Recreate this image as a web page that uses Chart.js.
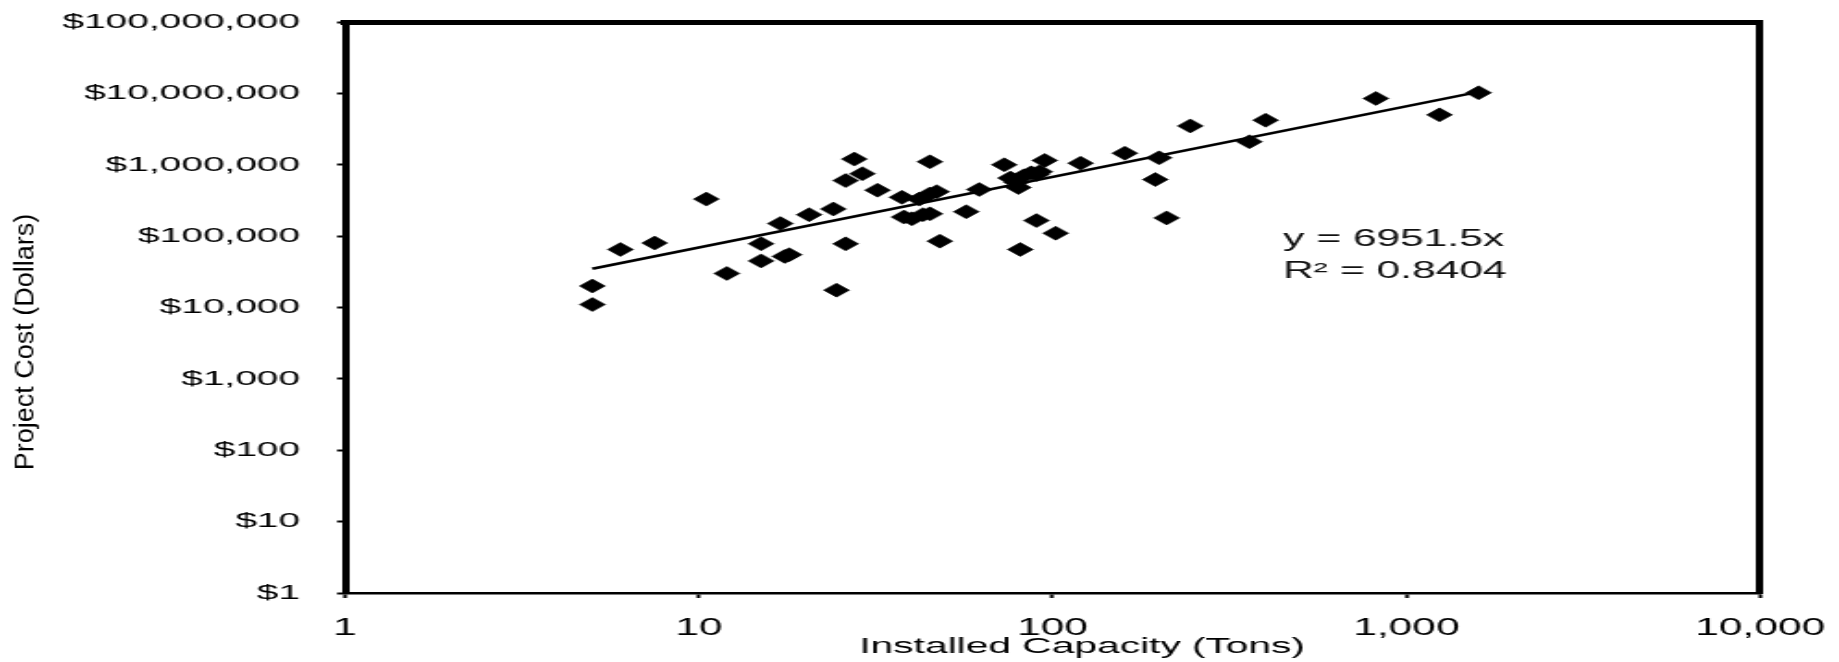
<!DOCTYPE html>
<html><head><meta charset="utf-8">
<script src="https://cdn.jsdelivr.net/npm/chart.js@4.4.1/dist/chart.umd.min.js"></script>
<style>
html,body{margin:0;padding:0;background:#fff;overflow:hidden;width:1839px;height:662px}
#wrap{position:absolute;left:0;top:0;width:994px;height:662px;transform:scaleX(1.85010);transform-origin:0 0}
</style></head><body>
<div id="wrap"><canvas id="c"></canvas></div>
<script>
// ---- data ----
const capacityTons = [5, 5, 6, 7.5, 10.5, 12, 15, 15, 17, 18, 17.5, 20.5, 24, 24.5, 26, 26, 27.5, 29, 32, 37.5,
  38, 40, 43, 42, 45, 45, 47, 45, 48, 57, 62, 73, 76, 79, 80, 81, 83, 87, 90, 92,
  90, 95, 102, 120, 160, 195, 200, 210, 245, 360, 400, 820, 1240, 1600];
const projectCost = [20000, 11000, 65000, 80000, 330000, 30000, 78000, 45000, 150000, 55000, 52000, 200000, 240000, 17500, 78000, 600000, 1200000, 750000, 440000, 350000,
  185000, 175000, 200000, 330000, 1100000, 390000, 420000, 205000, 85000, 220000, 450000, 1000000, 650000, 570000, 480000, 65000, 700000, 770000, 730000, 800000,
  165000, 1150000, 110000, 1050000, 1450000, 620000, 1250000, 180000, 3500000, 2100000, 4200000, 8500000, 5000000, 10200000];
const trendTons = [5, 1600];
const trendCost = [35000, 10500000];
const xTickValues = [1, 10, 100, 1000, 10000];
const xTickLabels = ['1', '10', '100', '1,000', '10,000'];
const yTickValues = [1, 10, 100, 1000, 10000, 100000, 1000000, 10000000, 100000000];
const yTickLabels = ['$1', '$10', '$100', '$1,000', '$10,000', '$100,000', '$1,000,000', '$10,000,000', '$100,000,000'];
const equationLines = ['y = 6951.5x', 'R\u00B2 = 0.8404'];
const xTitle = 'Installed Capacity (Tons)';
const yTitle = 'Project Cost (Dollars)';

const STRETCH = 1839 / 994;
const FONT = '"Liberation Sans", Arial, Helvetica, sans-serif';
Chart.defaults.font.family = FONT;
Chart.defaults.color = '#000';

const equationPlugin = {
  id: 'equation',
  afterDatasetsDraw(chart, args, opts) {
    const {ctx, scales} = chart;
    const px = scales.x.getPixelForValue(opts.atTons);
    const py = scales.y.getPixelForValue(opts.atCost);
    ctx.save();
    ctx.font = opts.size + 'px ' + FONT;
    ctx.fillStyle = '#111';
    ctx.textAlign = 'left';
    ctx.textBaseline = 'middle';
    equationLines.forEach((t, i) => ctx.fillText(t, px, py + i * opts.lineGap));
    ctx.restore();
  }
};

// the rotated axis title is not widened in the reference: undo the page stretch for it;
// the x axis title sits a little right of the plot centre in the reference
const titleTweaks = {
  id: 'titleTweaks',
  beforeDraw(chart, args, opts) {
    const tb = chart.titleBlock;
    if (tb && !tb._unstretched) {
      const orig = tb.draw.bind(tb);
      tb.draw = function (area) {
        const ctx = chart.ctx;
        const cx = tb.left + tb.width / 2;
        ctx.save();
        ctx.translate(cx, 0); ctx.scale(1 / STRETCH, 1); ctx.translate(-cx, 0);
        orig(area);
        ctx.restore();
      };
      tb._unstretched = true;
    }
    const xs = chart.scales.x;
    if (xs && !xs._titleShifted) {
      const origT = xs.drawTitle.bind(xs);
      xs.drawTitle = function () {
        const ctx = chart.ctx;
        ctx.save();
        ctx.translate(opts.xTitleShift, 0);
        origT();
        ctx.restore();
      };
      xs._titleShifted = true;
    }
  }
};

const frameScale = (pos, w) => ({
  type: 'linear', position: pos, display: true, min: 0, max: 1,
  ticks: {display: false},
  grid: {drawOnChartArea: false, drawTicks: false},
  border: {display: true, color: '#000', width: w},
  afterFit: s => { if (pos === 'top') s.height = 0; else s.width = 0; }
});

new Chart(document.getElementById('c'), {
  data: {
    datasets: [
      {
        type: 'scatter',
        data: capacityTons.map((t, i) => ({x: t, y: projectCost[i]})),
        pointStyle: 'rectRot', pointRadius: 7, pointHoverRadius: 7,
        backgroundColor: '#000', borderColor: '#000', borderWidth: 0.5
      },
      {
        type: 'line',
        data: trendTons.map((t, i) => ({x: t, y: trendCost[i]})),
        borderColor: '#000', borderWidth: 2.6, pointRadius: 0, fill: false, tension: 0
      }
    ]
  },
  options: {
    responsive: true, maintainAspectRatio: false, animation: false,
    devicePixelRatio: 1,
    layout: {padding: {top: 22, right: 42.6, bottom: 0, left: 0}},
    plugins: {
      legend: {display: false}, tooltip: {enabled: false},
      title: {display: true, position: 'left', text: yTitle, color: '#000',
        font: {size: 27, weight: 'normal', family: FONT, lineHeight: 1.0}, padding: 0},
      equation: {atTons: 448, atCost: 89700, lineGap: 32, size: 23},
      titleTweaks: {xTitleShift: 16}
    },
    scales: {
      x: {
        type: 'logarithmic', position: 'bottom', min: 1, max: 10000,
        afterBuildTicks: s => { s.ticks = xTickValues.map(v => ({value: v})); },
        afterFit: s => { s.height = 69; },
        ticks: {autoSkip: false, maxRotation: 0, padding: 0, color: '#000',
          font: {size: 23, lineHeight: 2.7}, callback: (v, i) => xTickLabels[i]},
        grid: {drawOnChartArea: false, drawTicks: true, tickLength: 5, tickWidth: 2, tickColor: '#000'},
        border: {display: true, color: '#000', width: 2.5},
        title: {display: true, text: xTitle, color: '#000', font: {size: 22}, padding: {top: 0, bottom: 2}}
      },
      y: {
        type: 'logarithmic', position: 'left', min: 1, max: 100000000,
        afterBuildTicks: s => { s.ticks = yTickValues.map(v => ({value: v})); },
        afterFit: s => { s.width = 159.5; },
        ticks: {autoSkip: false, padding: 20, color: '#000',
          font: {size: 21, lineHeight: 0.01}, callback: (v, i) => yTickLabels[i]},
        grid: {drawOnChartArea: false, drawTicks: true, tickLength: 4.3, tickWidth: 2, tickColor: '#000'},
        border: {display: true, color: '#000', width: 4}
      },
      x2: frameScale('top', 5),
      y2: frameScale('right', 4)
    }
  },
  plugins: [equationPlugin, titleTweaks]
});
</script>
</body></html>
